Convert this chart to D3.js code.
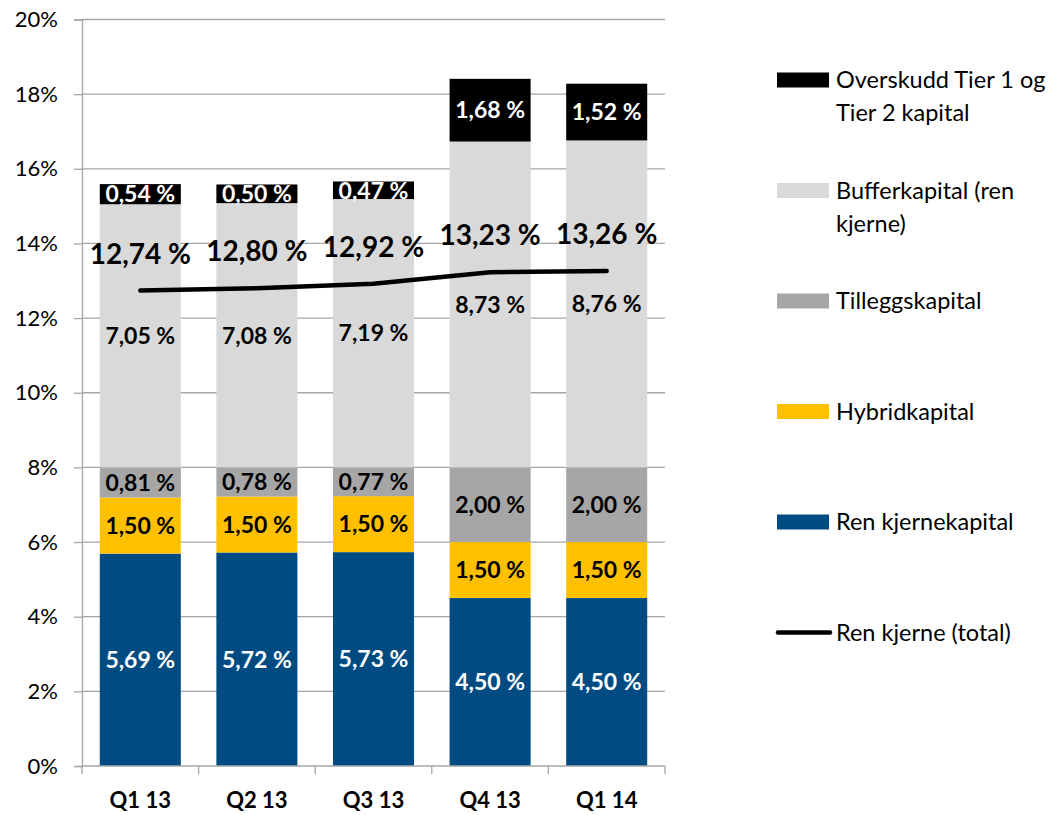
<!DOCTYPE html>
<html lang="no">
<head>
<meta charset="UTF-8">
<title>Kapitalkrav</title>
<script src="https://d3js.org/d3.v7.min.js"></script>
<style>
    body { margin: 0; background: #fff; font-family: Lato, 'Open Sans', sans-serif; }
    svg { display: block; }
    .grid line { stroke: #a6a6a6; stroke-width: 1.3; }
    .axis path, .axis line { stroke: #a6a6a6; stroke-width: 1.3; }
    .axis text { fill: #000; }
</style>
</head>
<body>
<svg id="chart" width="1054" height="815"></svg>
<script>
    // data
    const quarters = ["Q1 13", "Q2 13", "Q3 13", "Q4 13", "Q1 14"];
    const renKjernekapital = [5.69, 5.72, 5.73, 4.50, 4.50];
    const hybridkapital = [1.50, 1.50, 1.50, 1.50, 1.50];
    const tilleggskapital = [0.81, 0.78, 0.77, 2.00, 2.00];
    const bufferkapital = [7.05, 7.08, 7.19, 8.73, 8.76];
    const overskudd = [0.54, 0.50, 0.47, 1.68, 1.52];
    const renKjerneTotal = [12.74, 12.80, 12.92, 13.23, 13.26];
    const yTicks = [0, 2, 4, 6, 8, 10, 12, 14, 16, 18, 20];

    const series = [
        { key: "ren", name: "Ren kjernekapital", values: renKjernekapital, color: "#004b82", text: "#fff" },
        { key: "hybrid", name: "Hybridkapital", values: hybridkapital, color: "#ffc000", text: "#000" },
        { key: "tillegg", name: "Tilleggskapital", values: tilleggskapital, color: "#a6a6a6", text: "#000" },
        { key: "buffer", name: "Bufferkapital (ren kjerne)", values: bufferkapital, color: "#d9d9d9", text: "#000" },
        { key: "over", name: "Overskudd Tier 1 og Tier 2 kapital", values: overskudd, color: "#000", text: "#fff" }
    ];

    const fmt = v => d3.format(".2f")(v).replace(".", ",") + " %";

    const svg = d3.select("#chart");
    const margin = { top: 19.5, left: 82, right: 389, bottom: 49 };
    const width = 1054 - margin.left - margin.right;
    const height = 815 - margin.top - margin.bottom;

    const x = d3.scaleBand().domain(quarters).range([0, width]).paddingInner(0.305).paddingOuter(0.1525);
    const y = d3.scaleLinear().domain([0, 20]).range([height, 0]);

    const g = svg.append("g").attr("transform", `translate(${margin.left},${margin.top})`);

    // gridlines
    g.append("g").attr("class", "grid")
        .selectAll("line").data(yTicks.slice(1)).join("line")
        .attr("x1", 0).attr("x2", width)
        .attr("y1", d => y(d)).attr("y2", d => y(d));

    // y axis
    const yAxis = g.append("g").attr("class", "axis")
        .call(d3.axisLeft(y).tickValues(yTicks).tickSize(8).tickPadding(16).tickFormat(d => d + "%"));
    yAxis.selectAll("text").style("font-size", "22px").style("font-family", "Lato, sans-serif");

    // stacked table
    const table = quarters.map((q, i) => {
        const row = { q };
        series.forEach(s => row[s.key] = s.values[i]);
        return row;
    });
    const stack = d3.stack().keys(series.map(s => s.key))(table);

    const layers = g.selectAll(".layer").data(stack).join("g")
        .attr("class", "layer")
        .attr("fill", (d, i) => series[i].color);

    layers.selectAll("rect").data(d => d).join("rect")
        .attr("x", d => x(d.data.q))
        .attr("width", x.bandwidth())
        .attr("y", d => y(d[1]))
        .attr("height", d => y(d[0]) - y(d[1]));

    layers.each(function (layer, i) {
        d3.select(this).selectAll("text").data(layer).join("text")
            .attr("x", d => x(d.data.q) + x.bandwidth() / 2)
            .attr("y", d => y((d[0] + d[1]) / 2))
            .attr("dy", "0.36em")
            .attr("text-anchor", "middle")
            .attr("fill", series[i].text)
            .style("font-size", "23px")
            .style("font-weight", "700")
            .text(d => fmt(d[1] - d[0]));
    });

    // x axis
    const xAxisG = g.append("g").attr("class", "axis")
        .attr("transform", `translate(0,${height})`);
    xAxisG.append("line").attr("x1", 0).attr("x2", width).attr("y1", 0).attr("y2", 0);
    const step = x.step();
    xAxisG.selectAll(".tk").data(d3.range(quarters.length + 1)).join("line")
        .attr("class", "tk")
        .attr("x1", i => i * step).attr("x2", i => i * step)
        .attr("y1", 0).attr("y2", 8);
    xAxisG.selectAll("text").data(quarters).join("text")
        .attr("x", d => x(d) + x.bandwidth() / 2)
        .attr("y", 34)
        .attr("dy", "0.36em")
        .attr("text-anchor", "middle")
        .style("font-size", "22px")
        .style("font-weight", "700")
        .text(d => d);

    // Ren kjerne (total) line
    const line = d3.line()
        .x((d, i) => x(quarters[i]) + x.bandwidth() / 2)
        .y(d => y(d));
    g.append("path").datum(renKjerneTotal)
        .attr("fill", "none")
        .attr("stroke", "#000")
        .attr("stroke-width", 4.5)
        .attr("stroke-linecap", "round")
        .attr("d", line);

    g.selectAll(".lineLabel").data(renKjerneTotal).join("text")
        .attr("class", "lineLabel")
        .attr("x", (d, i) => x(quarters[i]) + x.bandwidth() / 2)
        .attr("y", d => y(d) - 37)
        .attr("dy", "0.36em")
        .attr("text-anchor", "middle")
        .style("font-size", "28px")
        .style("font-weight", "700")
        .text(d => fmt(d));

    // legend
    const legendItems = [
        { lines: ["Overskudd Tier 1 og", "Tier 2 kapital"], color: "#000", type: "rect" },
        { lines: ["Bufferkapital (ren", "kjerne)"], color: "#d9d9d9", type: "rect" },
        { lines: ["Tilleggskapital"], color: "#a6a6a6", type: "rect" },
        { lines: ["Hybridkapital"], color: "#ffc000", type: "rect" },
        { lines: ["Ren kjernekapital"], color: "#004b82", type: "rect" },
        { lines: ["Ren kjerne (total)"], color: "#000", type: "line" }
    ];
    const legend = svg.append("g").attr("transform", "translate(777,80)");
    legendItems.forEach((it, i) => {
        const li = legend.append("g").attr("transform", `translate(0,${i * 110.5})`);
        if (it.type === "rect") {
            li.append("rect").attr("x", 0).attr("y", -7.5).attr("width", 52).attr("height", 15).attr("fill", it.color);
        } else {
            li.append("line").attr("x1", 1).attr("x2", 53).attr("y1", 0).attr("y2", 0)
                .attr("stroke", it.color).attr("stroke-width", 4.5).attr("stroke-linecap", "round");
        }
        li.selectAll("text").data(it.lines).join("text")
            .attr("x", 59)
            .attr("y", (d, j) => j * 33)
            .attr("dy", "0.35em")
            .style("font-size", "23.5px")
            .text(d => d);
    });
</script>
</body>
</html>
